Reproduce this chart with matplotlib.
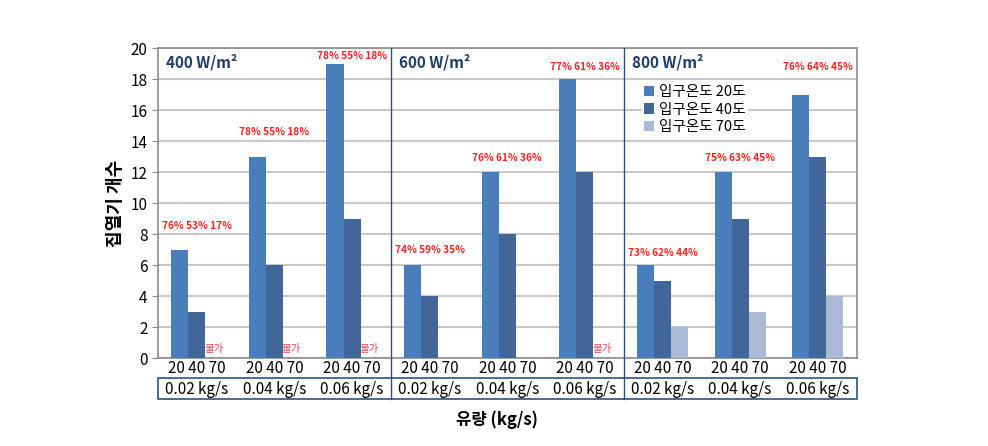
import numpy as np
import matplotlib
matplotlib.use("Agg")
from matplotlib import pyplot as plt
from matplotlib.patches import Rectangle
from matplotlib.lines import Line2D

plt.rcParams['font.family'] = ['Noto Sans CJK KR', 'DejaVu Sans']

# data
panels = ['400 W/m²', '600 W/m²', '800 W/m²']
flows = ['0.02 kg/s', '0.04 kg/s', '0.06 kg/s']
temps = ['입구온도 20도', '입구온도 40도', '입구온도 70도']
t20 = [7, 13, 19, 6, 12, 18, 6, 12, 17]
t40 = [3, 6, 9, 4, 8, 12, 5, 9, 13]
t70 = [0, 0, 0, 0, 0, 0, 2, 3, 4]
eff = ['76% 53% 17%', '78% 55% 18%', '78% 55% 18%',
       '74% 59% 35%', '76% 61% 36%', '77% 61% 36%',
       '73% 62% 44%', '75% 63% 45%', '76% 64% 45%']
eff_y = [8.5, 14.6, 19.5, 7.0, 12.9, 18.8, 6.8, 12.9, 18.8]
impossible = [True, True, True, False, False, True, False, False, False]

colors = ['#4A7EBB', '#41679A', '#AAB9D5']
navy = '#2E5183'

fig = plt.figure(figsize=(9.88, 4.46), dpi=100)
ax = fig.add_axes([0.160, 0.197, 0.707, 0.695])

x = np.arange(9)
w = 0.22
for i, (vals, c) in enumerate(zip([t20, t40, t70], colors)):
    ax.bar(x + (i - 1) * w, vals, width=w, color=c, label=temps[i], zorder=3)

ax.set_xlim(-0.5, 8.5)
ax.set_ylim(0, 20)
ax.set_yticks(range(0, 21, 2))
ax.tick_params(axis='y', labelsize=11, length=4, color='#888888')
ax.set_xticks([])
ax.grid(axis='y', color='#C8C8C8', linewidth=1.5, zorder=0)
for s in ax.spines.values():
    s.set_color('#8C8C8C')
    s.set_linewidth(1.2)

for k in range(9):
    ax.text(k, eff_y[k], eff[k], color='#FF2020', fontsize=7.3, fontweight='bold',
            ha='center', va='center', zorder=5)
    if impossible[k]:
        ax.text(k + w, 0.25, '불가', color='#F04050', fontsize=7.5,
                ha='center', va='bottom', zorder=5)

trans = ax.get_xaxis_transform()
for k in range(9):
    ax.text(k, -0.034, '20 40 70', transform=trans, ha='center', va='center', fontsize=11)
    ax.text(k, -0.1, flows[k % 3], transform=trans, ha='center', va='center', fontsize=11)

# table box and panel separators
ax.add_patch(Rectangle((-0.5, -0.132), 9, 0.067, transform=trans, fill=False,
                       edgecolor=navy, linewidth=1.2, clip_on=False))
for xs in [2.5, 5.5]:
    ax.add_line(Line2D([xs, xs], [-0.132, 1.0], transform=trans, color=navy,
                       linewidth=1.0, clip_on=False, zorder=4))

for p, name in enumerate(panels):
    ax.text(p * 3 - 0.4, 0.955, name, transform=trans, fontsize=11, fontweight='bold',
            color='#1F3D6B', ha='left', va='center', zorder=5)

ax.set_ylabel('집열기 개수', fontsize=13, fontweight='bold', labelpad=4)
fig.text(0.503, 0.058, '유량 (kg/s)', ha='center', va='center', fontsize=12, fontweight='bold')

leg = ax.legend(loc='upper left', bbox_to_anchor=(0.682, 0.912), fontsize=10.5,
                frameon=True, fancybox=False, edgecolor='white', framealpha=1,
                handlelength=0.7, handleheight=0.7, handletextpad=0.3,
                borderpad=0.15, labelspacing=0.25)
leg.set_zorder(6)

fig.savefig('out.png', dpi=100)
